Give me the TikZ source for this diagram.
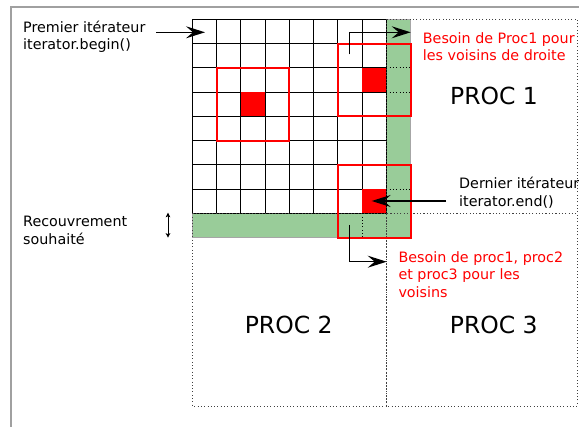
\documentclass[tikz,border=0pt]{standalone}
\usepackage{fontspec}
\setmainfont{DejaVu Sans}
\usetikzlibrary{arrows.meta}
\definecolor{halo}{RGB}{153,204,153}
\definecolor{framegray}{RGB}{160,160,160}

\begin{document}
\begin{tikzpicture}[x=1pt,y=-1pt,
  lbl/.style={font=\fontsize{14.3}{17.9}\selectfont, align=left, inner sep=0pt, anchor=base west},
  redlbl/.style={lbl, text=red},
  proclbl/.style={font=\fontsize{23.5}{28}\selectfont, inner sep=0pt, anchor=base},
  gridline/.style={line width=1pt, black, line cap=rect},
  redbox/.style={draw=red, line width=2pt},
  procline/.style={black!75, line width=0.9pt, dash pattern=on 0.9pt off 2.4pt},
  haloline/.style={black, line width=0.9pt, dash pattern=on 0.9pt off 2.4pt},
  pointer/.style={line width=1.3pt, -{Stealth[length=19pt,width=12pt,inset=7pt]}},
  twoway/.style={line width=1pt, {Stealth[length=4.5pt,width=4.5pt,inset=1pt]}-{Stealth[length=4.5pt,width=4.5pt,inset=1pt]}},
]
\useasboundingbox (0,0) rectangle (579,427);

% page frame
\draw[framegray, line width=1.6pt] (11,427) -- (11,7.3) -- (579,7.3);

% local block of cells with its ghost (overlap) layer
\begin{scope}[shift={(192.3,19.3)}, x=24.25pt, y=-24.25pt]
  \filldraw[fill=halo, draw=gray!70, line width=0.8pt]
    (8,0) -- (9,0) -- (9,9) -- (0,9) -- (0,8) -- (8,8) -- cycle;
  \foreach \i in {0,...,8} {
    \draw[gridline] (\i,0) -- (\i,8);
    \draw[gridline] (0,\i) -- (8,\i);
  }
  \fill[red] (2,3) rectangle (3,4);
  \fill[red] (7,2) rectangle (8,3);
  \fill[red] (7,7) rectangle (8,8);
\end{scope}

% process domains
\draw[procline] (386.3,19.3) rectangle (577.3,213.3);
\draw[procline] (192.3,213.3) rectangle (386.3,406);
\draw[procline] (386.3,213.3) rectangle (577.3,406);

\begin{scope}[shift={(192.3,19.3)}, x=24.25pt, y=-24.25pt]
  % ghost cells reached by the stencils
  \draw[haloline] (8,2) -- (9,2);
  \draw[haloline] (8,3) -- (9,3);
  \draw[haloline] (8,7) -- (9,7);
  \draw[haloline] (7,8) -- (7,9);
  % stencils
  \draw[redbox] (1,2) rectangle (4,5);
  \draw[redbox] (6,1) rectangle (9,4);
  \draw[redbox] (6,6) rectangle (9,9);
\end{scope}

% labels (base anchor sits on the last line)
\node[lbl] (first) at (23,50.0) {Premier itérateur\\iterator.begin()};
\node[lbl] (overlap) at (23,244.3) {Recouvrement\\souhaité};
\node[redlbl] (needright) at (422.7,61.0) {Besoin de Proc1 pour\\les voisins de droite};
\node[lbl] (last) at (459,206.6) {Dernier itérateur\\iterator.end()};
\node[redlbl] (needall) at (398.3,297.9) {Besoin de proc1, proc2\\et proc3 pour les\\voisins};
\node[proclbl] (p1) at (494,104.4) {PROC 1};
\node[proclbl] (p2) at (288.7,333.8) {PROC 2};
\node[proclbl] (p3) at (493.8,333.8) {PROC 3};

% pointers
\coordinate (beginTail) at (156,32.3);
\coordinate (beginTip) at (205,32.3);
\draw[pointer] (beginTail) -- (beginTip);

\coordinate (endTail) at (446,201);
\coordinate (endTip) at (371.7,201);
\draw[pointer] (endTail) -- (endTip);

\coordinate (rightTail) at (349.3,54.3);
\coordinate (rightTip) at (410.7,32.3);
\draw[pointer] (rightTail) |- (rightTip);

\coordinate (allTail) at (349.3,225);
\coordinate (allTip) at (386.7,261.7);
\draw[pointer] (allTail) |- (allTip);

\coordinate (ovTop) at (168,212.7);
\coordinate (ovBot) at (168,237.7);
\draw[twoway] (ovTop) -- (ovBot);
\end{tikzpicture}
\end{document}
